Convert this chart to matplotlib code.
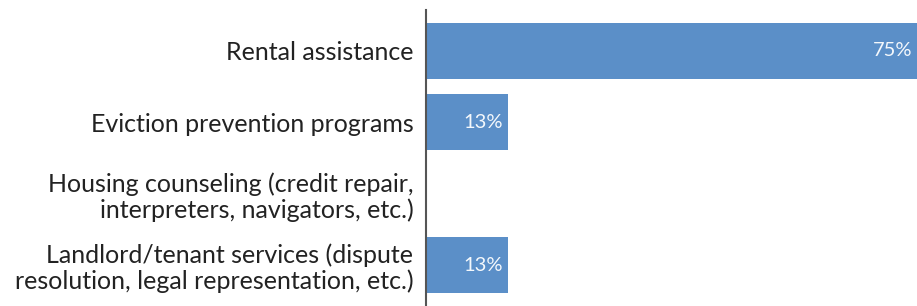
import matplotlib
matplotlib.use("Agg")
import matplotlib.pyplot as plt

categories = [
    "Rental assistance",
    "Eviction prevention programs",
    "Housing counseling (credit repair,\ninterpreters, navigators, etc.)",
    "Landlord/tenant services (dispute\nresolution, legal representation, etc.)",
]
values = [75, 12.5, 0, 12.5]
value_labels = ["75%", "13%", "", "13%"]

plt.rcParams['font.family'] = ['Lato', 'DejaVu Sans']

W, H = 917, 306
fig = plt.figure(figsize=(W / 100, H / 100), dpi=100)
ax = fig.add_axes([426 / W, 0, 1 - 426 / W, 1 - 10 / H])

bar_color = "#5b8fc8"
ypos = list(range(len(categories)))
ax.barh(ypos, values, height=0.78, color=bar_color)
for y, v, lab in zip(ypos, values, value_labels):
    if lab:
        ax.text(v - 0.7, y, lab, ha="right", va="center", color="#f4f8fc", fontsize=14.5)

ax.set_xlim(0, 75)
ax.set_ylim(len(categories) - 0.43, -0.57)
ax.set_yticks(ypos)
ax.set_yticklabels(categories, fontsize=18, color="#222222", linespacing=1.12)
for t in ax.get_yticklabels():
    t.set_horizontalalignment("right")
    t.set_multialignment("right")
ax.tick_params(axis="y", length=0, pad=9)
ax.set_xticks([])
for s in ["top", "right", "bottom"]:
    ax.spines[s].set_visible(False)
ax.spines["left"].set_color("#555555")
ax.spines["left"].set_linewidth(1.5)

fig.savefig("out.png", dpi=100)
